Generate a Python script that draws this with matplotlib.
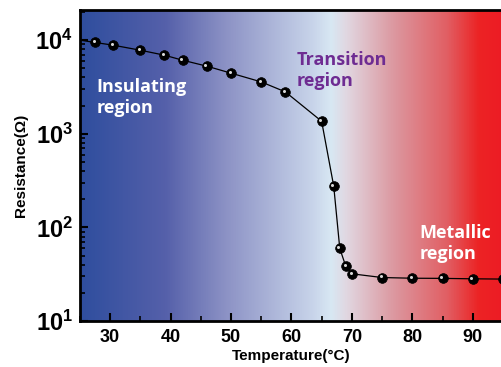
import numpy as np
import matplotlib.pyplot as plt
from matplotlib.colors import LinearSegmentedColormap
from matplotlib.ticker import LogLocator, MultipleLocator
from matplotlib.transforms import offset_copy

# data
temp = [25, 27.5, 30.5, 35, 39, 42, 46, 50, 55, 59, 65, 67, 68, 69, 70, 75, 80, 85, 90, 95]
resist = [10000, 9430, 8830, 7800, 6900, 6100, 5270, 4440, 3580, 2800, 1360,
          276, 59.7, 38.4, 32, 29.2, 28.7, 28.6, 28.3, 28.1]

# background gradient stops (position along x, colour)
grad_pos = [0.0, 0.2, 0.343, 0.55, 0.593, 0.629, 0.743, 0.867, 0.943, 1.0]
grad_col = ['#2F4E9E', '#5560AA', '#8C92C5', '#C8D4EA', '#D8E8F3',
            '#E1D7E1', '#DC979F', '#E15F64', '#EC2324', '#ED1C24']

xmin, xmax = 25, 95
ymin, ymax = 10, 2.1e4

fig = plt.figure(figsize=(5.02, 3.67), dpi=100)
ax = fig.add_axes([0.159, 0.125, 0.843, 0.848])

cmap = LinearSegmentedColormap.from_list('bg', list(zip(grad_pos, grad_col)))
grad = np.linspace(0, 1, 512).reshape(1, -1)
ax.imshow(grad, cmap=cmap, aspect='auto', extent=[xmin, xmax, ymin, ymax],
          zorder=0, interpolation='bilinear')

ax.set_yscale('log')
ax.plot(temp, resist, color='black', lw=0.9, marker='o', ms=7,
        mfc='black', mec='black', mew=0.5, markevery=list(range(1, len(temp))), zorder=3)
# small highlight on the spheres (upper left)
hl = offset_copy(ax.transData, fig=fig, x=-1.3, y=1.3, units='dots')
ax.plot(temp[1:], resist[1:], ls='none', marker='o', ms=2.2, mfc='#d8d8d8',
        mec='none', zorder=4, transform=hl)

ax.set_xlim(xmin, xmax)
ax.set_ylim(ymin, ymax)

ax.xaxis.set_major_locator(MultipleLocator(10))
ax.xaxis.set_minor_locator(MultipleLocator(5))
ax.yaxis.set_major_locator(LogLocator(base=10, numticks=10))
ax.yaxis.set_minor_locator(LogLocator(base=10, subs=np.arange(2, 10), numticks=10))

ax.tick_params(which='major', direction='in', length=6, width=1.5,
               top=False, right=False)
ax.tick_params(which='minor', direction='in', length=3.5, width=1.2,
               top=False, right=False)
ax.tick_params(axis='x', which='major', labelsize=13, pad=6)
ax.tick_params(axis='y', which='major', labelsize=17, pad=5)
for lab in ax.get_xticklabels() + ax.get_yticklabels():
    lab.set_fontweight('bold')
    lab.set_family('Liberation Sans')

for sp in ax.spines.values():
    sp.set_linewidth(2)

ax.set_xlabel('Temperature(\u00b0C)', fontsize=11, fontweight='bold',
              family='Liberation Sans', labelpad=2)
ax.set_ylabel('Resistance(\u03a9)', fontsize=11, fontweight='bold',
              family='Liberation Sans', labelpad=5)

txt = dict(fontsize=13, fontweight='bold', family='Open Sans',
           linespacing=1.2, va='bottom')
ax.text(27.8, 1500, 'Insulating\nregion', color='white', **txt)
ax.text(60.9, 2920, 'Transition\nregion', color='#6E2C92', **txt)
ax.text(81.2, 42, 'Metallic\nregion', color='white', **txt)

plt.savefig('out.png', dpi=100)
